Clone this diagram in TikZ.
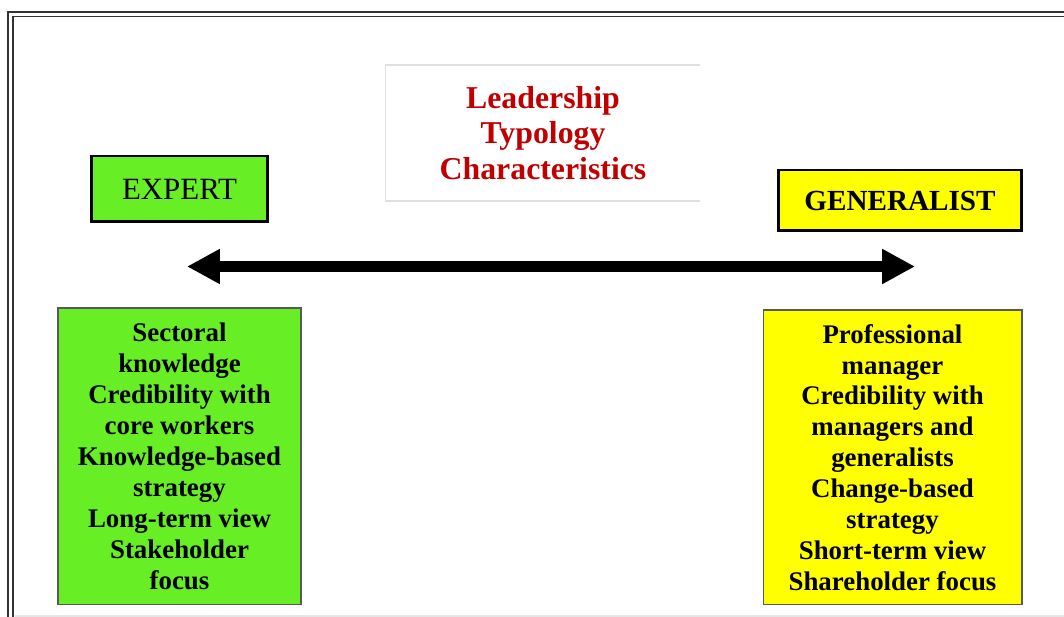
\documentclass[tikz,border=0pt]{standalone}
\usepackage{fontspec}
\setmainfont{Liberation Serif}
\usetikzlibrary{arrows.meta}
\definecolor{expertgreen}{RGB}{104,238,36}
\definecolor{generalyellow}{RGB}{255,255,0}
\definecolor{titlered}{RGB}{192,0,0}
\tikzset{
    head box/.style={draw, line width=1.7pt, inner sep=0pt}, % the two type labels
    list box/.style={draw=black!65, line width=0.6pt, inner sep=0pt, align=center, font=\fontsize{15.3}{17.6}\selectfont\bfseries}, % the characteristic lists
    frame line/.style={black!80, line width=1.1pt}, % outer double frame
    scale arrow/.style={line width=6.2pt, {Triangle[length=18.7pt, width=18.7pt]}-{Triangle[length=18.7pt, width=18.7pt]}}
}
\begin{document}
\begin{tikzpicture}[x=0.02cm, y=-0.02cm]
    \useasboundingbox (0,0) rectangle (1064,617);

    \draw[frame line] (8,617) -- (8,12) -- (1064,12);
    \draw[frame line] (13,617) -- (13,16.5) -- (1064,16.5);
    \draw[black!10, line width=0.6pt] (15,616) -- (1064,616);

    \node[minimum width=6.28cm, minimum height=2.7cm, align=center, text=titlered, font=\fontsize{18.1}{20.4}\selectfont\bfseries] (title) at (543,133) {Leadership\\Typology\\Characteristics};
    \draw[black!12, line width=0.8pt] (title.north east) -- (title.north west) -- (title.south west) -- (title.south east);

    \node[head box, fill=expertgreen, minimum width=3.54cm, minimum height=1.32cm, font=\fontsize{17.6}{20}\selectfont] (expert) at (179.5,189) {EXPERT};
    \node[head box, fill=generalyellow, minimum width=4.88cm, minimum height=1.22cm, font=\fontsize{16.6}{20}\selectfont\bfseries] (generalist) at (900,200.5) {GENERALIST};

    \coordinate (expert end) at (187,266.5);
    \coordinate (generalist end) at (915,266.5);
    \draw[scale arrow] (expert end) -- (generalist end);

    \node[list box, fill=expertgreen, minimum width=4.86cm, minimum height=5.94cm] (expert list) at (179.5,456.5) {Sectoral\\knowledge\\Credibility with\\core workers\\Knowledge-based\\strategy\\Long-term view\\Stakeholder\\focus};
    \node[list box, fill=generalyellow, minimum width=5.18cm, minimum height=5.9cm] (generalist list) at (892.5,457.5) {Professional\\manager\\Credibility with\\managers and\\generalists\\Change-based\\strategy\\Short-term view\\Shareholder focus};
\end{tikzpicture}
\end{document}
